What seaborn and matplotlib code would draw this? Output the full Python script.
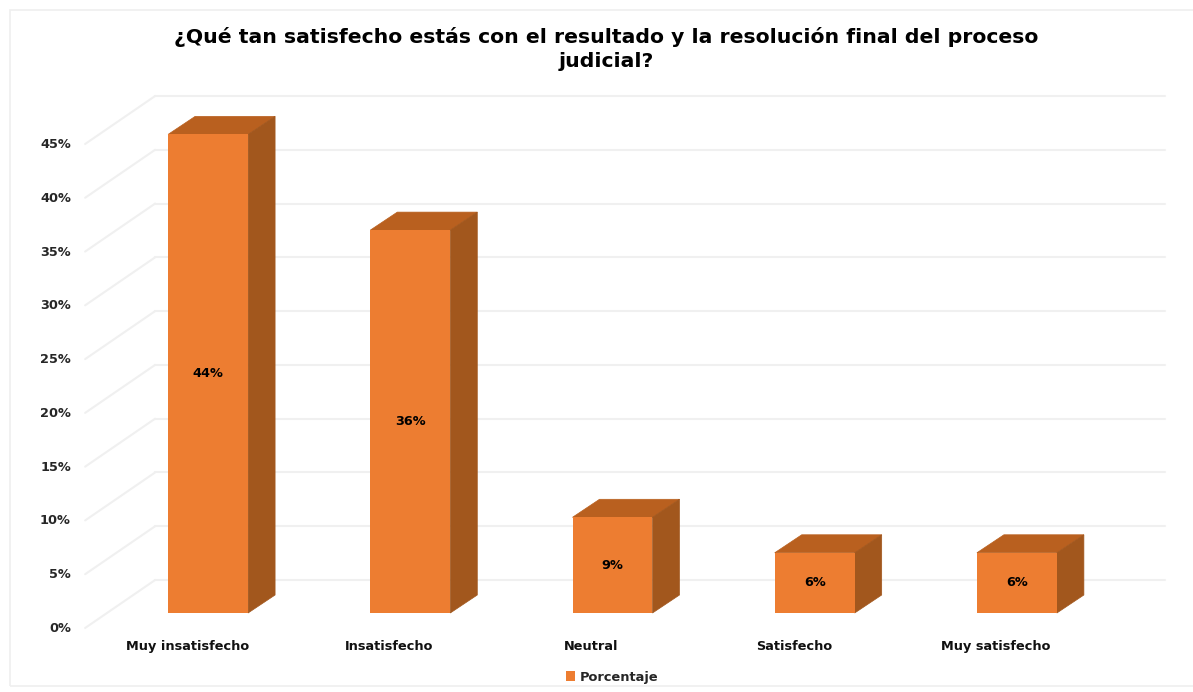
import pandas as pd
import matplotlib.pyplot as plt
import seaborn as sns
from matplotlib.patches import Polygon, Rectangle
from matplotlib.transforms import ScaledTranslation

categorias = ['Muy insatisfecho', 'Insatisfecho', 'Neutral', 'Satisfecho', 'Muy satisfecho']
porcentajes = [44.5, 35.6, 8.9, 5.6, 5.6]
ticks_y = [0, 5, 10, 15, 20, 25, 30, 35, 40, 45]
titulo = '¿Qué tan satisfecho estás con el resultado y la resolución final del proceso\njudicial?'
serie = 'Porcentaje'

NARANJA = '#ED7D31'
TECHO = '#B9601F'
LADO = '#A2571D'
GRID = '#F0F0F0'

W, H = 1193, 692
PX_X = 202.25  # pixels per category
PX_Y = 10.76   # pixels per percent

df = pd.DataFrame({'categoria': categorias, 'valor': porcentajes})

sns.set_theme(style='white')
plt.rcParams['font.family'] = ['DejaVu Sans']

fig = plt.figure(figsize=(W / 100, H / 100), dpi=100)
ax = fig.add_axes([107 / W, (H - 613) / H, 1011 / W, 484 / H])

# back wall and the diagonal lines on the side wall
for t in ticks_y:
    back_y = t + 33 / PX_Y
    ax.plot([(155 - 208) / PX_X, (1165 - 208) / PX_X], [back_y, back_y],
            color=GRID, lw=1.5, zorder=1, clip_on=False)
    ax.plot([(85 - 208) / PX_X, (155 - 208) / PX_X], [t - 15 / PX_Y, back_y],
            color=GRID, lw=1.5, zorder=1, clip_on=False)

sns.barplot(data=df, x='categoria', y='valor', color=NARANJA, saturation=1,
            width=80 / PX_X, linewidth=0, label=serie, zorder=4, ax=ax)

# 3D look: top and side faces built from the bars seaborn drew
dx = 27 / PX_X
dy = 18 / PX_Y
for bar in ax.containers[0]:
    x0, x1 = bar.get_x(), bar.get_x() + bar.get_width()
    h = bar.get_height()
    ax.add_patch(Polygon([(x0, h), (x1, h), (x1 + dx, h + dy), (x0 + dx, h + dy)],
                         facecolor=TECHO, edgecolor=TECHO, lw=0.5, zorder=3, clip_on=False))
    ax.add_patch(Polygon([(x1, 0), (x1 + dx, dy), (x1 + dx, h + dy), (x1, h)],
                         facecolor=LADO, edgecolor=LADO, lw=0.5, zorder=3, clip_on=False))

ax.bar_label(ax.containers[0], fmt='%.0f%%', label_type='center', fontsize=9.3,
             fontweight='bold', color='black', zorder=6)

ax.set_xlim(-0.5, 4.5)
ax.set_ylim(0, 45)
ax.set_xlabel('')
ax.set_ylabel('')
ax.set_yticks(ticks_y)
ax.set_yticklabels([f'{t}%' for t in ticks_y])
ax.tick_params(axis='y', length=0, pad=26, labelsize=9.3, labelcolor='#262626')
ax.tick_params(axis='x', length=0, pad=19.5, labelsize=9.3, labelcolor='#111111')
for lab in ax.get_yticklabels():
    lab.set_fontweight('bold')
    lab.set_transform(lab.get_transform() + ScaledTranslation(0, -14 / 100, fig.dpi_scale_trans))
for lab in ax.get_xticklabels():
    lab.set_fontweight('bold')
    lab.set_transform(lab.get_transform() + ScaledTranslation(-21 / 100, 0, fig.dpi_scale_trans))
sns.despine(ax=ax, left=True, bottom=True)
ax.patch.set_alpha(0)

fig.text(606 / W, (H - 49) / H, titulo, ha='center', va='center', fontsize=14.7,
         fontweight='bold', color='black', linespacing=1.3)

leg = ax.legend(loc='center', bbox_to_anchor=(612 / W, (H - 677) / H),
                bbox_transform=fig.transFigure, frameon=False, fontsize=9.4,
                handlelength=0.7, handleheight=0.7, handletextpad=0.4)
for txt in leg.get_texts():
    txt.set_fontweight('bold')

# chart border runs off the right edge of the image
fig.add_artist(Rectangle((10 / W, (H - 686) / H), 1200 / W, 676 / H, transform=fig.transFigure,
                         fill=False, edgecolor='#EFEFEF', lw=1.2))

fig.savefig('out.png', dpi=100)
